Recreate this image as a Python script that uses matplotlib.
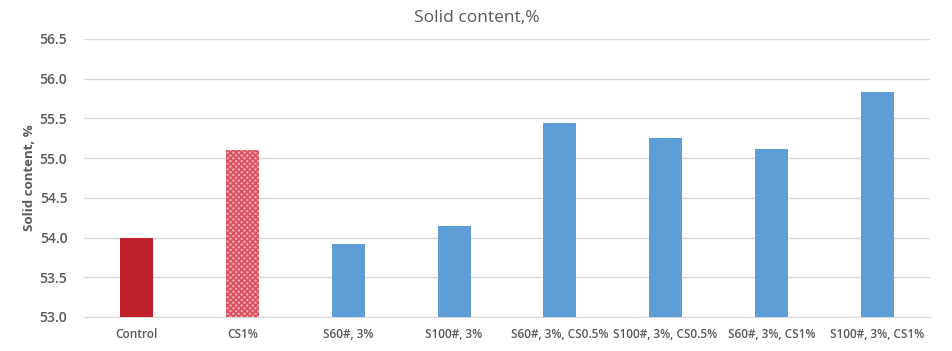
import matplotlib
matplotlib.use("Agg")
import matplotlib.pyplot as plt
import numpy as np

categories = ["Control", "CS1%", "S60#, 3%", "S100#, 3%", "S60#, 3%, CS0.5%",
              "S100#, 3%, CS0.5%", "S60#, 3%, CS1%", "S100#, 3%, CS1%"]
values = [54.00, 55.10, 53.92, 54.15, 55.44, 55.25, 55.12, 55.83]
yticks = [53.0, 53.5, 54.0, 54.5, 55.0, 55.5, 56.0, 56.5]

plt.rcParams['font.family'] = ['Open Sans', 'DejaVu Sans']
plt.rcParams['hatch.linewidth'] = 1.2

fig = plt.figure(figsize=(9.53, 3.51), dpi=100)
ax = fig.add_axes([84/953, 1-317/351, (930-84)/953, (317-39)/351])

x = np.arange(len(categories))
colors = ["#C0202A", "#F2A7AE"] + ["#5E9ED6"] * 6
bars = ax.bar(x, [v - 53.0 for v in values], bottom=53.0, width=0.31, color=colors, zorder=3, linewidth=0)
bars[1].set_hatch('xxxxxx')
bars[1].set_edgecolor('#D9505E')
bars[1].set_linewidth(0)

ax.set_ylim(53.0, 56.5)
ax.set_xlim(-0.5, len(categories) - 0.5)
ax.set_yticks(yticks)
ax.set_yticklabels([f"{t:.1f}" for t in yticks])
ax.set_xticks(x)
ax.set_xticklabels(categories)
ax.yaxis.grid(True, color="#D9D9D9", linewidth=1, zorder=0)
for s in ["top", "right", "left"]:
    ax.spines[s].set_visible(False)
ax.spines["bottom"].set_color("#D9D9D9")
ax.tick_params(axis="both", length=0, colors="#595959")
ax.tick_params(axis="x", pad=8, labelsize=8.5)
ax.tick_params(axis="y", pad=12, labelsize=10)
for lab in ax.get_xticklabels() + ax.get_yticklabels():
    lab.set_fontweight("semibold")

ax.set_ylabel("Solid content, %", fontsize=9.5, fontweight="bold", color="#595959")
ax.yaxis.set_label_coords(-(84 - 36) / 846, 0.5)
fig.text(0.5, 1-18/351, "Solid content,%", ha="center", va="center", fontsize=12.5, color="#595959")

fig.savefig("out.png", dpi=100, facecolor="white")
